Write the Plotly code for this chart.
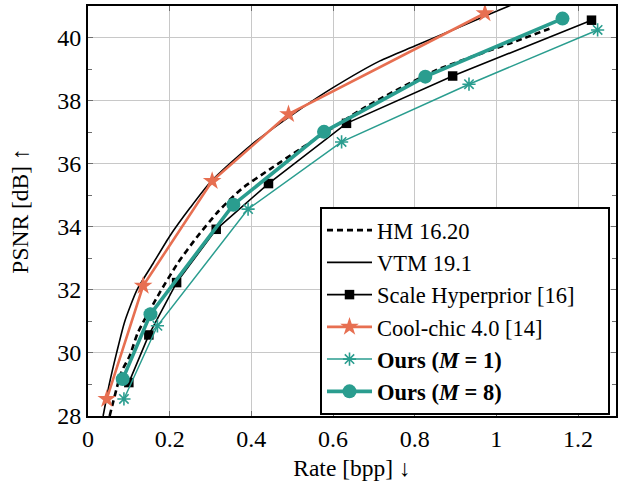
import plotly.graph_objects as go

# ---- data ----
hm_rate = [0.053, 0.082, 0.102, 0.122, 0.176, 0.22, 0.266, 0.32, 0.376, 0.446, 0.519, 0.68, 0.85, 1.049, 1.13]
hm_psnr = [28.0, 29.4, 29.9, 30.64, 31.92, 32.85, 33.66, 34.5, 35.2, 35.83, 36.46, 37.8, 38.95, 39.89, 40.28]

vtm_rate = [0.037, 0.052, 0.07, 0.09, 0.12, 0.16, 0.2, 0.25, 0.3, 0.4, 0.52, 0.6, 0.715, 0.8, 1.0, 1.04]
vtm_psnr = [28.0, 29.0, 30.0, 31.0, 32.0, 32.85, 33.7, 34.6, 35.42, 36.6, 37.73, 38.41, 39.26, 39.73, 40.83, 41.05]

shp_rate = [0.100, 0.149, 0.217, 0.314, 0.442, 0.633, 0.893, 1.233]
shp_psnr = [29.06, 30.57, 32.23, 33.92, 35.37, 37.28, 38.78, 40.55]

cc_rate = [0.046, 0.135, 0.304, 0.491, 0.972]
cc_psnr = [28.54, 32.13, 35.45, 37.57, 40.77]

m1_rate = [0.088, 0.170, 0.392, 0.621, 0.933, 1.248]
m1_psnr = [28.54, 30.86, 34.56, 36.69, 38.52, 40.24]

m8_rate = [0.085, 0.153, 0.356, 0.578, 0.826, 1.162]
m8_psnr = [29.17, 31.23, 34.70, 37.01, 38.76, 40.60]

x_ticks = [0, 0.2, 0.4, 0.6, 0.8, 1.0, 1.2]
x_tick_text = ["0", "0.2", "0.4", "0.6", "0.8", "1", "1.2"]
y_ticks = [28, 30, 32, 34, 36, 38, 40]

ORANGE = "rgb(231,111,81)"
TEAL = "rgb(42,157,143)"
FONT = "Liberation Serif"
PAD = "\u00a0" * 5  # widens the legend box like the reference

fig = go.Figure()
fig.add_trace(go.Scatter(x=hm_rate, y=hm_psnr, mode="lines", name="HM 16.20",
                         line=dict(color="black", width=2.6, dash="6px,4px", shape="spline", smoothing=0.6),
                         legendgroup="a"))
fig.add_trace(go.Scatter(x=vtm_rate, y=vtm_psnr, mode="lines", name="VTM 19.1",
                         line=dict(color="black", width=1.6, shape="spline", smoothing=0.6),
                         legendgroup="b"))
fig.add_trace(go.Scatter(x=shp_rate, y=shp_psnr, mode="lines+markers", name="Scale Hyperprior [16]" + PAD,
                         line=dict(color="black", width=1.6),
                         marker=dict(symbol="square", size=9.5, color="black"),
                         legendgroup="c"))
fig.add_trace(go.Scatter(x=cc_rate, y=cc_psnr, mode="lines+markers", name="Cool-chic 4.0 [14]",
                         line=dict(color=ORANGE, width=2.6),
                         marker=dict(symbol="star", size=14, color=ORANGE),
                         legendgroup="d"))
fig.add_trace(go.Scatter(x=m1_rate, y=m1_psnr, mode="lines+markers",
                         name="<b>Ours (<i>M</i> = 1)</b>",
                         line=dict(color=TEAL, width=1.5),
                         marker=dict(symbol="asterisk-open", size=11, color=TEAL,
                                     line=dict(color=TEAL, width=1.6)),
                         legendgroup="e"))
fig.add_trace(go.Scatter(x=m8_rate, y=m8_psnr, mode="lines+markers",
                         name="<b>Ours (<i>M</i> = 8)</b>",
                         line=dict(color=TEAL, width=3.6),
                         marker=dict(symbol="circle", size=14, color=TEAL),
                         legendgroup="f"))

axis_common = dict(showline=True, linecolor="black", linewidth=2, mirror="allticks",
                   ticks="inside", ticklen=5, tickcolor="rgb(110,110,110)", tickwidth=1,
                   showgrid=True, gridcolor="rgb(200,200,200)", gridwidth=1,
                   zeroline=False, tickfont=dict(family=FONT, size=24, color="black"))

fig.update_xaxes(range=[0, 1.293], tickvals=x_ticks, ticktext=x_tick_text,
                 title=dict(text="Rate [bpp] ↓", font=dict(family=FONT, size=23.5, color="black"), standoff=12),
                 **axis_common)
fig.update_yaxes(range=[28, 41], tickvals=y_ticks,
                 minor=dict(dtick=1, tick0=28, ticks="inside", ticklen=4, tickcolor="rgb(110,110,110)", showgrid=False),
                 title=dict(text="PSNR [dB] ↑", font=dict(family=FONT, size=23.5, color="black"), standoff=22),
                 **axis_common)

fig.update_layout(
    width=619, height=481,
    margin=dict(l=88, r=3, t=6, b=65, autoexpand=False),
    plot_bgcolor="white", paper_bgcolor="white",
    font=dict(family=FONT, size=22.5, color="black"),
    legend=dict(x=0.4394, y=0.5098, xanchor="left", yanchor="top",
                bgcolor="white", bordercolor="black", borderwidth=2,
                font=dict(family=FONT, size=22.5, color="black"),
                traceorder="grouped", tracegroupgap=0, itemwidth=45),
)

fig.write_html("out.html", config={"displayModeBar": False},
               post_script="document.body.style.margin='0';document.body.style.overflow='hidden';")
